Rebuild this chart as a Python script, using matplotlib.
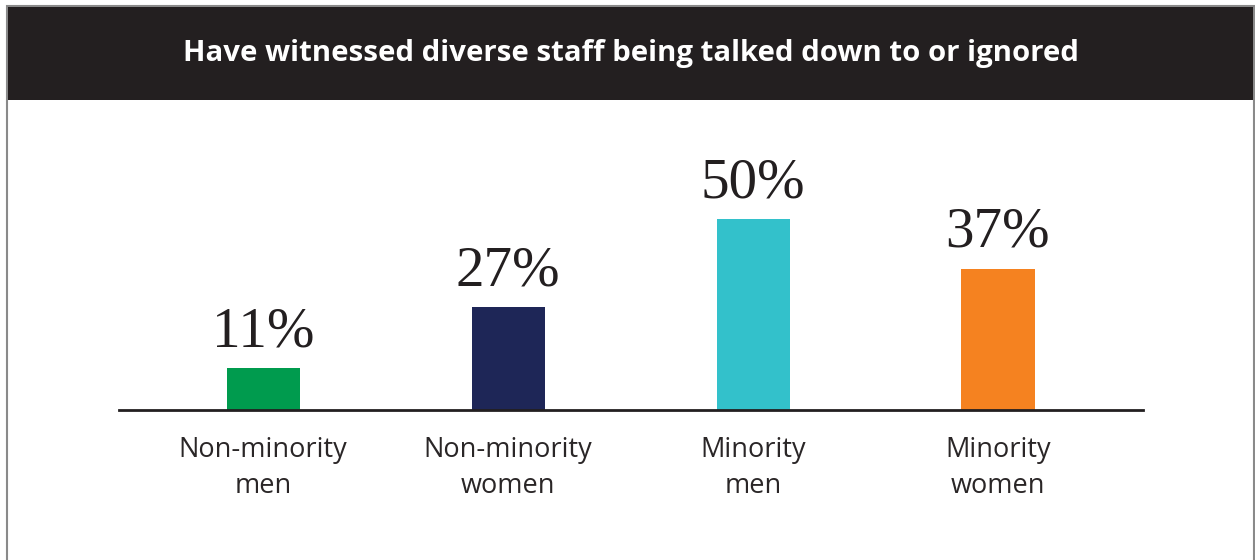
import matplotlib
matplotlib.use("Agg")
import matplotlib.pyplot as plt
from matplotlib.patches import Rectangle

title = "Have witnessed diverse staff being talked down to or ignored"
categories = ["Non-minority\nmen", "Non-minority\nwomen", "Minority\nmen", "Minority\nwomen"]
values = [11, 27, 50, 37]
colors = ["#009B4E", "#1E2657", "#33C1CB", "#F58220"]

W, H = 1255, 560
fig = plt.figure(figsize=(W / 100, H / 100), dpi=100)
fig.patch.set_facecolor("white")

def fx(px):
    return px / W

def fy(py):
    return 1 - py / H

# outer frame
fig.add_artist(Rectangle((fx(7), fy(562)), fx(1254) - fx(7), fy(6) - fy(562),
                         transform=fig.transFigure, facecolor="none",
                         edgecolor="#8a8a8a", linewidth=1.5))
# title band
fig.add_artist(Rectangle((fx(8), fy(100)), fx(1253) - fx(8), fy(7) - fy(100),
                         transform=fig.transFigure, facecolor="#231F20",
                         edgecolor="none"))
fig.text(fx(631), fy(54), title, color="white", fontsize=21.2,
         fontfamily="Open Sans", fontweight="bold", ha="center", va="center")

# plotting area: baseline at y=410 px, spanning x 119..1143 px
left, right = 119, 1143
bottom, top = 410, 150
ax = fig.add_axes([fx(left), fy(bottom), fx(right) - fx(left), fy(top) - fy(bottom)])
ax.set_facecolor("none")

spacing = 245
x0 = (263 - left) / spacing
ax.set_xlim(-x0, -x0 + (right - left) / spacing)
px_per_unit = 191 / 50
ax.set_ylim(0, (bottom - top) / px_per_unit)

xs = list(range(len(values)))
ax.bar(xs, values, width=73 / spacing, color=colors, zorder=2)

for x, v in zip(xs, values):
    ax.annotate(f"{v}%", (x, v), xytext=(0, 7), textcoords="offset points",
                ha="center", va="bottom", fontsize=41,
                fontfamily="Liberation Serif", color="#231F20")

for s in ["top", "right", "left"]:
    ax.spines[s].set_visible(False)
ax.spines["bottom"].set_linewidth(2)
ax.spines["bottom"].set_color("#231F20")
ax.spines["bottom"].set_zorder(3)
ax.set_yticks([])
ax.set_xticks(xs)
ax.set_xticklabels(categories, fontfamily="Open Sans", fontsize=19.5,
                   color="#2a2627", linespacing=1.35)
ax.tick_params(axis="x", length=0, pad=19)

fig.savefig("out.png", dpi=100, facecolor="white")
